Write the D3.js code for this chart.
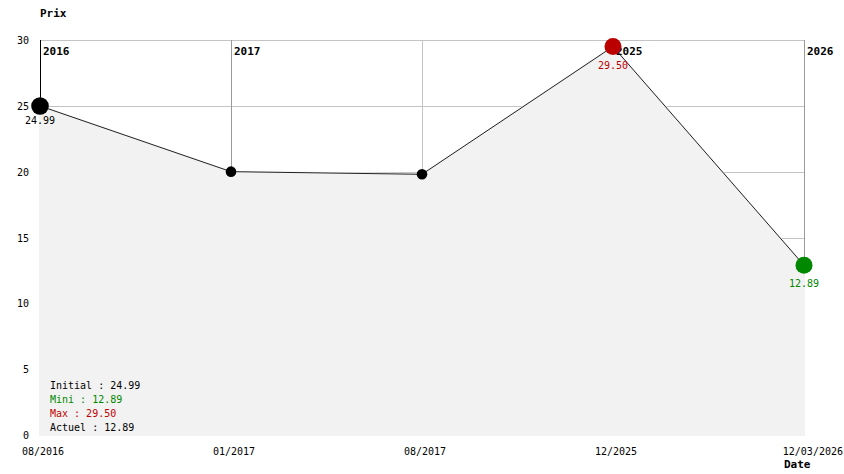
<!DOCTYPE html>
<html><head><meta charset="utf-8">
<script src="https://cdn.jsdelivr.net/npm/d3@7"></script>
<style>body{margin:0;background:#fff}svg{display:block}text{font-family:"DejaVu Sans Mono","Liberation Mono",monospace}</style>
</head><body><svg id="c" width="844" height="474"></svg>
<script>
const dates = ["08/2016", "01/2017", "08/2017", "12/2025", "12/03/2026"];
const prices = [24.99, 20.00, 19.80, 29.50, 12.89];
const yearLabels = ["2016", "2017", null, "2025", "2026"];
const yTicks = [0, 5, 10, 15, 20, 25, 30];
const stats = [["Initial : 24.99", "#000"], ["Mini : 12.89", "#008800"], ["Max : 29.50", "#c00000"], ["Actuel : 12.89", "#000"]];

const svg = d3.select("#c");
const x = d3.scalePoint().domain(d3.range(dates.length)).range([40, 804]);
const y = d3.scaleLinear().domain([0, 30]).range([435, 40]);
const data = prices.map((v, i) => ({i, v}));

// horizontal grid
svg.append("g").selectAll("line").data(yTicks.filter(t => t > 0)).join("line")
  .attr("x1", 40).attr("x2", 805).attr("y1", d => Math.round(y(d)) + 0.5).attr("y2", d => Math.round(y(d)) + 0.5)
  .attr("stroke", "#c4c4c4");
// vertical grid
const vCol = ["#000", "#999", "#c4c4c4", "#999", "#999"];
svg.append("g").selectAll("line").data(d3.range(dates.length)).join("line")
  .attr("x1", d => Math.round(x(d)) + 0.5).attr("x2", d => Math.round(x(d)) + 0.5)
  .attr("y1", 40).attr("y2", 435)
  .attr("stroke", d => vCol[d]);

// area
svg.append("path").datum(data)
  .attr("d", d3.area().x(d => x(d.i)).y0(435).y1(d => y(d.v)))
  .attr("fill", "#f2f2f2").attr("stroke", "#f2f2f2").attr("stroke-width", 2);
svg.append("path").datum(data)
  .attr("d", d3.line().x(d => x(d.i)).y(d => y(d.v)))
  .attr("fill", "none").attr("stroke", "#222").attr("stroke-width", 1);

// year labels
svg.append("g").selectAll("text").data(d3.range(dates.length).filter(i => yearLabels[i])).join("text")
  .attr("x", d => x(d) + 3).attr("y", 55).text(d => yearLabels[d])
  .attr("font-size", 11).attr("font-weight", "bold").attr("fill", "#000");

// y axis labels
svg.append("g").selectAll("text").data(yTicks).join("text")
  .attr("x", 29).attr("y", d => y(d) + 4).attr("text-anchor", "end").text(d => d)
  .attr("font-size", 10).attr("fill", "#000");
// x axis labels
svg.append("g").selectAll("text").data(d3.range(dates.length)).join("text")
  .attr("y", 455).text(d => dates[d])
  .attr("font-size", 10).attr("fill", "#000")
  .attr("x", function(d) { const w = this.getComputedTextLength(); return Math.min(x(d) - 18, 843 - w); });

svg.append("text").attr("x", 40).attr("y", 17).text("Prix").attr("font-size", 11).attr("font-weight", "bold");
svg.append("text").attr("x", 784).attr("y", 468).text("Date").attr("font-size", 11).attr("font-weight", "bold");

// markers
const maxI = prices.indexOf(d3.max(prices)), minI = prices.lastIndexOf(d3.min(prices));
const mk = data.map(d => {
  if (d.i === maxI) return {...d, r: 8.5, c: "#bb0000"};
  if (d.i === minI) return {...d, r: 8.5, c: "#008800"};
  if (d.i === 0) return {...d, r: 8.8, c: "#000"};
  return {...d, r: 5.3, c: "#000"};
});
svg.append("g").selectAll("circle").data(mk).join("circle")
  .attr("cx", d => x(d.i)).attr("cy", d => y(d.v)).attr("r", d => d.r).attr("fill", d => d.c);
const lbl = mk.filter(d => d.r > 8);
svg.append("g").selectAll("text").data(lbl).join("text")
  .attr("x", d => x(d.i)).attr("y", d => y(d.v) + (d.i === 0 ? 18 : 22)).attr("text-anchor", "middle")
  .text(d => d.v.toFixed(2)).attr("fill", d => d.c).attr("font-size", 10);

// stats
svg.append("g").selectAll("text").data(stats).join("text")
  .attr("x", 50).attr("y", (d, i) => 389 + i * 14).text(d => d[0]).attr("fill", d => d[1]).attr("font-size", 10);
</script></body></html>
